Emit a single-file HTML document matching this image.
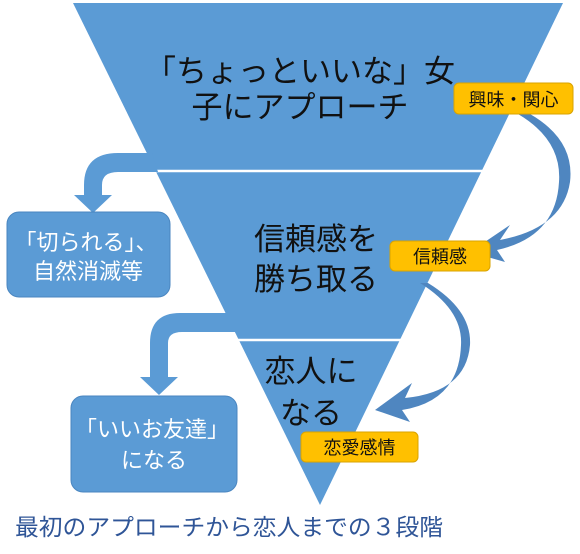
<!DOCTYPE html>
<html><head><meta charset="utf-8"><style>
body{margin:0;background:#fff;}
svg{display:block;}
text{font-family:"Liberation Sans","Noto Sans CJK JP",sans-serif;}
</style></head><body>
<svg width="580" height="554" viewBox="0 0 580 554" xmlns="http://www.w3.org/2000/svg">
<polygon points="73,3 563,3 320,505" fill="#5B9BD5"/>
<line x1="150" y1="171" x2="490" y2="171" stroke="#fff" stroke-width="2.5"/>
<line x1="236" y1="340" x2="404" y2="340" stroke="#fff" stroke-width="2.5"/>
<path d="M152,153 L118,153 Q84,153 84,185 L84,195 L74,195 L93,213 L112,195 L102,195 L102,185 Q102,172 118,172 L158,172 Z" fill="#5B9BD5"/>
<path d="M238,313 L180,313 Q150,313 150,343 L150,377 L140,377 L159,395 L178,377 L168,377 L168,343 Q168,332 182,332 L246,332 Z" fill="#5B9BD5"/>
<path d="M530,114 Q575,140 570,182 Q563,228 500,240 L510,225 L470,252 L505,262 L497,250 Q556,237 559,182 Q562,140 518,114 Z" fill="#4F86C0"/>
<path d="M428,283 Q472,310 470,345 Q466,392 405,398 L412,383 L375,410 L410,422 L402,410 Q459,401 461,345 Q463,310 420,283 Z" fill="#4F86C0"/>
<g font-size="31" fill="#111" text-anchor="middle">
<text x="300" y="82">「ちょっといいな」女</text>
<text x="300" y="118">子にアプローチ</text>
<text x="316" y="250">信頼感を</text>
<text x="316" y="290">勝ち取る</text>
<text x="311" y="382">恋人に</text>
<text x="311" y="424">なる</text>
</g>
<rect x="454" y="83" width="119" height="31" rx="5" fill="#FFC000" stroke="#D9A300"/>
<text x="513.5" y="106" font-size="18" text-anchor="middle" fill="#111">興味・関心</text>
<rect x="390" y="241" width="100" height="30" rx="5" fill="#FFC000" stroke="#D9A300"/>
<text x="440" y="263" font-size="18" text-anchor="middle" fill="#111">信頼感</text>
<rect x="301" y="432" width="117" height="30" rx="5" fill="#FFC000" stroke="#D9A300"/>
<text x="359.5" y="454" font-size="18" text-anchor="middle" fill="#111">恋愛感情</text>
<rect x="7" y="212" width="163" height="85" rx="12" fill="#5B9BD5" stroke="#4A86C0"/>
<text x="86" y="250" font-size="22" text-anchor="middle" fill="#fff">「切られる」、</text>
<text x="88" y="279" font-size="22" text-anchor="middle" fill="#fff">自然消滅等</text>
<rect x="71" y="396" width="166" height="96" rx="12" fill="#5B9BD5" stroke="#4A86C0"/>
<text x="152" y="437" font-size="22" text-anchor="middle" fill="#fff">「いいお友達」</text>
<text x="154" y="468" font-size="22" text-anchor="middle" fill="#fff">になる</text>
<text x="15" y="535" font-size="23" fill="#2F5597" textLength="428" lengthAdjust="spacingAndGlyphs">最初のアプローチから恋人までの３段階</text>
</svg>
</body></html>
